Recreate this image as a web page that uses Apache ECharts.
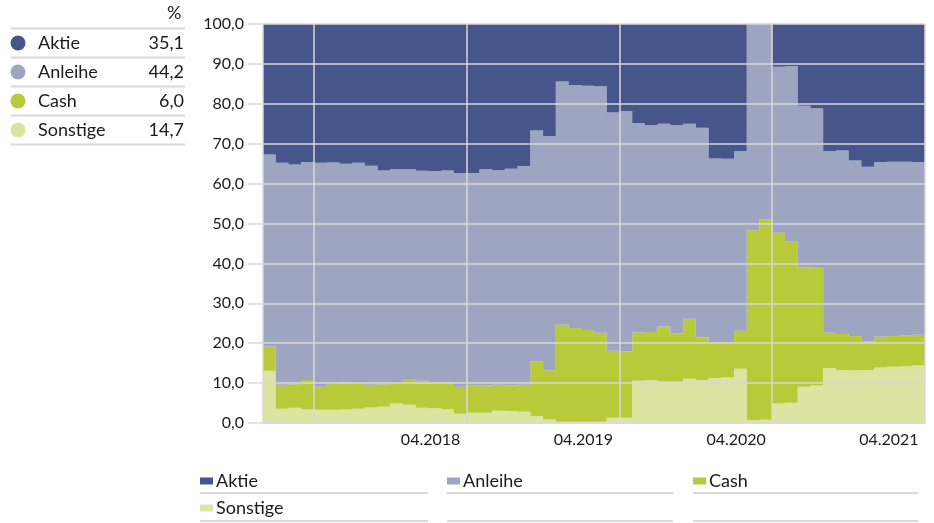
<!DOCTYPE html>
<html>
<head>
<meta charset="utf-8">
<script src="https://cdn.jsdelivr.net/npm/echarts@6/dist/echarts.min.js"></script>
<style>
  html, body { margin: 0; padding: 0; background: #fff; }
  #chart { width: 934px; height: 523px; }
</style>
</head>
<body>
<div id="chart"></div>
<script>
// month-end categories, one bar per month
var months = [
  '01.2017','02.2017','03.2017','04.2017','05.2017','06.2017','07.2017','08.2017','09.2017','10.2017','11.2017','12.2017',
  '01.2018','02.2018','03.2018','04.2018','05.2018','06.2018','07.2018','08.2018','09.2018','10.2018','11.2018','12.2018',
  '01.2019','02.2019','03.2019','04.2019','05.2019','06.2019','07.2019','08.2019','09.2019','10.2019','11.2019','12.2019',
  '01.2020','02.2020','03.2020','04.2020','05.2020','06.2020','07.2020','08.2020','09.2020','10.2020','11.2020','12.2020',
  '01.2021','02.2021','03.2021','04.2021'
];

var sonstige = [13.1,3.6,3.8,3.4,3.3,3.3,3.4,3.6,3.9,4.1,4.9,4.6,3.8,3.7,3.5,2.3,2.6,2.6,3.1,3.0,2.8,1.7,0.9,0.3,0.3,0.3,
  0.3,1.3,1.3,10.6,10.8,10.4,10.4,11.1,10.7,11.3,11.4,13.6,0.7,0.8,4.9,5.1,9.1,9.4,13.8,13.3,13.2,13.3,13.9,14.1,14.2,14.4];
var cash = [6.1,6.0,5.9,7.4,5.8,6.5,6.7,6.3,5.7,5.6,5.1,6.4,6.8,6.6,6.7,6.8,6.8,6.8,6.5,6.4,6.8,13.7,12.3,24.3,23.5,23.0,
  22.3,16.8,16.6,12.1,12.0,13.8,12.0,15.0,10.7,9.0,8.9,9.5,47.6,50.2,42.8,40.3,29.9,29.5,8.8,9.0,8.6,7.1,7.7,7.7,7.8,7.7];
var anleihe = [48.1,55.6,55.1,54.6,56.1,55.5,54.9,55.3,54.9,53.6,53.6,52.6,52.6,52.8,53.1,53.5,53.2,54.2,53.8,54.3,54.8,57.9,58.7,61.0,60.9,61.2,
  61.8,59.7,60.3,52.4,51.8,50.8,52.2,48.9,52.6,46.0,45.9,45.1,51.7,49.0,41.6,44.1,40.5,40.0,45.6,46.0,44.0,43.8,43.8,43.7,43.5,43.3];
var aktie = [32.7,34.8,35.2,34.6,34.8,34.7,35.0,34.8,35.5,36.7,36.4,36.4,36.8,36.9,36.7,37.4,37.4,36.4,36.6,36.3,35.6,26.7,28.1,14.4,15.3,15.5,
  15.6,22.2,21.8,24.9,25.4,25.0,25.4,25.0,26.0,33.7,33.8,31.8,0.0,0.0,10.7,10.5,20.5,21.1,31.8,31.7,34.2,35.8,34.6,34.5,34.5,34.6];

// current split shown in the table on the left
var tableNames = ['Aktie', 'Anleihe', 'Cash', 'Sonstige'];
var tableValues = ['35,1', '44,2', '6,0', '14,7'];

var tickIdx = [0, 4, 16, 28, 40];      // band starting at 04.xxxx
var labelIdx = [15, 27, 39, 51];       // 04.2018 ... 04.2021

var colors = { Aktie: '#46568a', Anleihe: '#9ea5c0', Cash: '#b8c93a', Sonstige: '#dbe4a1' };
var FONT = 'Lato';
var lineGrey = '#d9d9d9';

var chart = echarts.init(document.getElementById('chart'));

// left table
var graphics = [];
graphics.push({ type: 'text', left: 167, top: 4, style: { text: '%', font: '18px ' + FONT, fill: '#1a1a1a' } });
graphics.push({ type: 'line', shape: { x1: 11, y1: 28.5, x2: 185, y2: 28.5 }, style: { stroke: lineGrey, lineWidth: 2 } });
tableNames.forEach(function (name, i) {
  var cy = 43 + i * 29;
  graphics.push({ type: 'circle', shape: { cx: 18, cy: cy, r: 7.5 }, style: { fill: colors[name] } });
  graphics.push({ type: 'text', x: 38, y: cy, style: { text: name, font: '18px ' + FONT, fill: '#1a1a1a', verticalAlign: 'middle' } });
  graphics.push({ type: 'text', x: 184, y: cy, style: { text: tableValues[i], font: '18px ' + FONT, fill: '#1a1a1a', align: 'right', verticalAlign: 'middle' } });
  graphics.push({ type: 'line', shape: { x1: 11, y1: cy + 14.5, x2: 185, y2: cy + 14.5 }, style: { stroke: lineGrey, lineWidth: 2 } });
});
// lines under the bottom legend
[[200, 428], [447, 673], [693, 918]].forEach(function (c) {
  [493, 521].forEach(function (y) {
    graphics.push({ type: 'line', shape: { x1: c[0], y1: y, x2: c[1], y2: y }, style: { stroke: lineGrey, lineWidth: 2 } });
  });
});

var legendPos = { Aktie: [200, 472], Anleihe: [447, 472], Cash: [693, 472], Sonstige: [200, 499] };
var legends = tableNames.map(function (name) {
  return {
    data: [name], left: legendPos[name][0], top: legendPos[name][1], padding: 0,
    icon: 'rect', itemWidth: 13, itemHeight: 7, itemGap: 0,
    textStyle: { fontFamily: FONT, fontSize: 18, color: '#1a1a1a', padding: [0, 0, 0, -2] }
  };
});

function barSeries(name, data) {
  return {
    name: name, type: 'bar', stack: 'total', data: data,
    barCategoryGap: '0%',
    large: true, largeThreshold: 1,   // one path per series -> no seams between months
    itemStyle: { color: colors[name] },
    emphasis: { disabled: true }
  };
}

chart.setOption({
  animation: false,
  textStyle: { fontFamily: FONT },
  grid: { left: 263, right: 9, top: 24, bottom: 100 },
  legend: legends,
  graphic: graphics,
  xAxis: {
    type: 'category', data: months, z: 5,
    axisLine: { lineStyle: { color: lineGrey, width: 1.5 } },
    axisTick: { length: 13, lineStyle: { color: lineGrey, width: 1.5 },
      interval: function (i) { return tickIdx.indexOf(i) >= 0; } },
    splitLine: { show: true, lineStyle: { color: lineGrey, width: 1.5 },
      interval: function (i) { return tickIdx.indexOf(i) >= 0; } },
    axisLabel: { color: '#1a1a1a', fontSize: 16, align: 'right', margin: 9,
      interval: function (i) { return labelIdx.indexOf(i) >= 0; } }
  },
  yAxis: {
    type: 'value', min: 0, max: 100, interval: 10, z: 5,
    axisLine: { show: false },
    axisTick: { show: true, length: 15, lineStyle: { color: lineGrey, width: 1.5 } },
    splitLine: { lineStyle: { color: lineGrey, width: 1.5 } },
    axisLabel: { color: '#1a1a1a', fontSize: 16, margin: 19,
      formatter: function (v) { return v.toFixed(1).replace('.', ','); } }
  },
  series: [
    barSeries('Sonstige', sonstige),
    barSeries('Cash', cash),
    barSeries('Anleihe', anleihe),
    barSeries('Aktie', aktie)
  ]
});
</script>
</body>
</html>
